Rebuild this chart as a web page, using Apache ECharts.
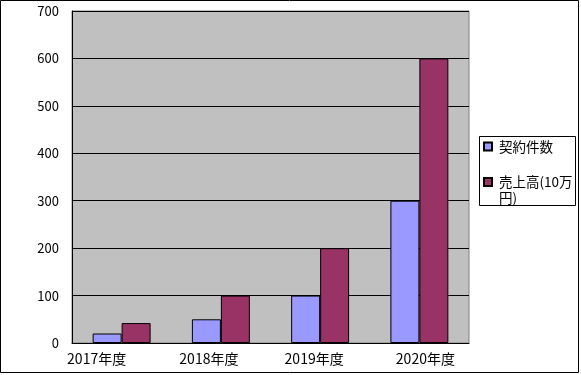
<!DOCTYPE html>
<html><head><meta charset="utf-8">
<script src="https://cdn.jsdelivr.net/npm/echarts@6/dist/echarts.min.js"></script>
<style>html,body{margin:0;padding:0;background:#fff}#c{width:581px;height:375px}</style>
</head><body><div id="c"></div>
<script>
const categories = ['2017年度', '2018年度', '2019年度', '2020年度'];
const contracts = [20, 50, 100, 300];
const sales = [42, 100, 200, 600];
const seriesNames = ['契約件数', '売上高(10万円)'];
const yMin = 0, yMax = 700, yStep = 100;
const labelShift = [-25, -12, -6, 6];

const FONT = '"Noto Sans CJK JP", sans-serif';
const chart = echarts.init(document.getElementById('c'));
chart.setOption({
  animation: false,
  textStyle: { fontFamily: FONT },
  graphic: [
    { type: 'rect', shape: { x: 0.5, y: 0.5, width: 578, height: 372 }, style: { fill: null, stroke: '#000', lineWidth: 1 }, z: 100 },
    { type: 'rect', shape: { x: 479.5, y: 136.5, width: 96, height: 69 }, style: { fill: '#fff', stroke: '#000', lineWidth: 1 }, z: -1 }
  ],
  grid: { left: 72, top: 11, right: 112, bottom: 32, show: true, backgroundColor: '#c0c0c0', borderColor: '#808080', borderWidth: 1 },
  legend: [
    { data: [seriesNames[0]], orient: 'vertical', left: 483, top: 138.5, padding: 0, itemWidth: 8, itemHeight: 8, icon: 'rect',
      textStyle: { fontSize: 13.5, lineHeight: 16, color: '#000', fontFamily: FONT, padding: [0, 0, 0, 2] } },
    { data: [seriesNames[1]], orient: 'vertical', left: 483, top: 158, padding: 0, itemWidth: 8, itemHeight: 8, icon: 'rect',
      formatter: n => ' \n売上高(10万\n円)',
      textStyle: { fontSize: 13.5, lineHeight: 16, color: '#000', fontFamily: FONT, padding: [0, 0, 0, 2] } }
  ],
  xAxis: {
    type: 'category',
    data: categories.map((c, i) => {
      const s = labelShift[i];
      return { value: c, textStyle: { padding: s < 0 ? [0, -2 * s, 0, 0] : [0, 0, 0, 2 * s] } };
    }),
    axisLine: { lineStyle: { color: '#000', width: 1 } },
    axisTick: { show: false },
    axisLabel: { color: '#000', fontSize: 14, margin: 9, fontFamily: FONT }
  },
  yAxis: {
    type: 'value', min: yMin, max: yMax, interval: yStep,
    axisLine: { show: true, lineStyle: { color: '#000', width: 1 } },
    axisTick: { show: true, inside: true, length: 5, lineStyle: { color: '#000' } },
    splitLine: { show: true, lineStyle: { color: '#000', width: 1 } },
    axisLabel: { color: '#000', fontSize: 13, margin: 13, fontFamily: FONT }
  },
  series: [
    { name: seriesNames[0], type: 'bar', data: contracts, barGap: '0%', barCategoryGap: '41.6%',
      itemStyle: { color: '#9999ff', borderColor: '#000', borderWidth: 1 } },
    { name: seriesNames[1], type: 'bar', data: sales, barGap: '0%', barCategoryGap: '41.6%',
      itemStyle: { color: '#993366', borderColor: '#000', borderWidth: 1 } }
  ]
});
</script></body></html>
